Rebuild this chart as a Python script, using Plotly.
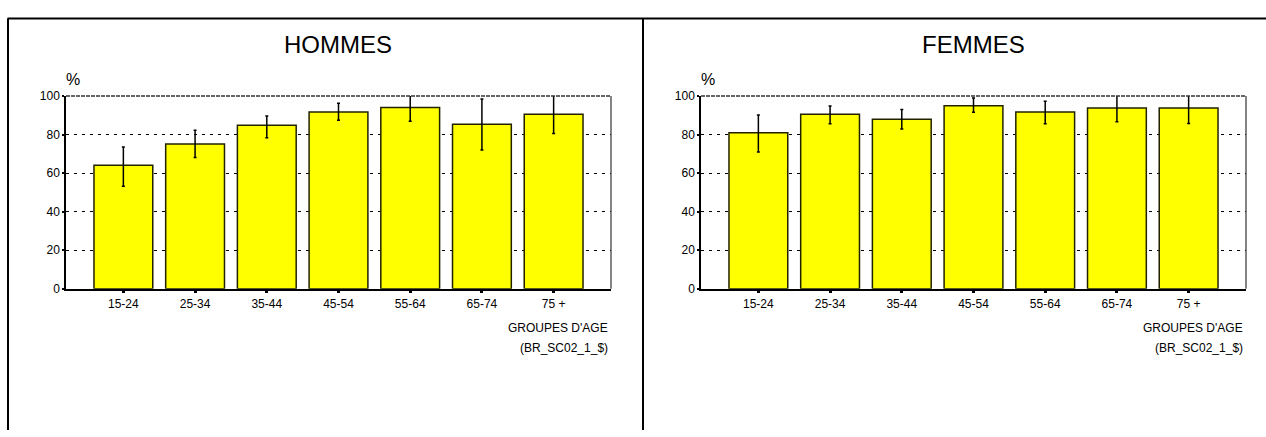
import plotly.graph_objects as go

W, H = 1266, 437

categories = ["15-24", "25-34", "35-44", "45-54", "55-64", "65-74", "75 +"]

hommes = [64.1, 75.1, 84.9, 91.7, 94.0, 85.4, 90.6]
hommes_err_plus = [9.5, 7.1, 4.8, 4.6, 7.0, 13.1, 10.0]
hommes_err_minus = [10.9, 7.0, 6.6, 4.3, 7.1, 13.4, 10.1]

femmes = [80.9, 90.6, 87.9, 95.0, 91.7, 93.8, 93.8]
femmes_err_plus = [9.3, 4.2, 5.1, 4.0, 5.6, 7.2, 8.1]
femmes_err_minus = [9.9, 5.0, 5.0, 3.4, 6.1, 7.2, 8.1]

y_ticks = [0, 20, 40, 60, 80, 100]
panel_titles = ["HOMMES", "FEMMES"]
x_title = "GROUPES D'AGE"
x_subtitle = "(BR_SC02_1_$)"
y_unit = "%"

FONT = "Liberation Sans, Arial, sans-serif"

# pixel layout
left_px = [(66, 611), (701, 1246)]
top_px, bottom_px = 92, 291


def px_x(v):
    return v / W


def px_y(v):
    return 1 - v / H


fig = go.Figure()

series = [
    (hommes, hommes_err_plus, hommes_err_minus),
    (femmes, femmes_err_plus, femmes_err_minus),
]

for i, (vals, ep, em) in enumerate(series):
    xa = "x" if i == 0 else "x2"
    ya = "y" if i == 0 else "y2"
    fig.add_trace(go.Bar(
        x=categories, y=vals, xaxis=xa, yaxis=ya,
        width=0.82,
        marker=dict(color="#FFFF00", line=dict(color="#222200", width=1.5)),
        error_y=dict(type="data", symmetric=False, array=ep, arrayminus=em,
                     color="black", thickness=1.5, width=1.5),
        showlegend=False, hoverinfo="x+y",
    ))

axis_common_x = dict(
    type="category", range=[-0.8, 6.8], showgrid=False, zeroline=False,
    showline=True, linecolor="black", linewidth=1.5,
    ticks="outside", ticklen=3, tickwidth=3, tickcolor="black",
    tickfont=dict(family=FONT, size=12, color="black"),
    fixedrange=True,
)
axis_common_y = dict(
    range=[0, 100], tickvals=y_ticks, showgrid=True, gridcolor="black",
    griddash="3px,5px", gridwidth=1, zeroline=False,
    showline=True, linecolor="black", linewidth=1.5,
    ticks="outside", ticklen=2, tickwidth=2, tickcolor="black",
    tickfont=dict(family=FONT, size=12, color="black"),
    fixedrange=True,
)

fig.update_layout(
    width=W, height=H, autosize=False,
    margin=dict(l=0, r=0, t=0, b=0),
    paper_bgcolor="white", plot_bgcolor="white",
    bargap=0.18,
    xaxis=dict(domain=[px_x(left_px[0][0]), px_x(left_px[0][1])], anchor="y", **axis_common_x),
    yaxis=dict(domain=[px_y(bottom_px), px_y(top_px)], anchor="x", **axis_common_y),
    xaxis2=dict(domain=[px_x(left_px[1][0]), px_x(left_px[1][1])], anchor="y2", **axis_common_x),
    yaxis2=dict(domain=[px_y(bottom_px), px_y(top_px)], anchor="x2", **axis_common_y),
)

shapes = []
annotations = []
for i, (l, r) in enumerate(left_px):
    # top dashed border and right solid border of plot area
    shapes.append(dict(type="line", xref="paper", yref="paper",
                       x0=px_x(l), x1=px_x(r), y0=px_y(top_px), y1=px_y(top_px),
                       line=dict(color="#333333", width=1.5, dash="4px,1px")))
    shapes.append(dict(type="line", xref="paper", yref="paper",
                       x0=px_x(r), x1=px_x(r), y0=px_y(top_px), y1=px_y(bottom_px),
                       line=dict(color="#333333", width=1.2)))
    annotations.append(dict(text=panel_titles[i], xref="paper", yref="paper",
                            x=px_x((l + r) / 2), y=px_y(39), xanchor="center", yanchor="middle",
                            showarrow=False, font=dict(family=FONT, size=24, color="black")))
    annotations.append(dict(text=y_unit, xref="paper", yref="paper",
                            x=px_x(l + 6.5), y=px_y(74.5), xanchor="center", yanchor="middle",
                            showarrow=False, font=dict(family=FONT, size=16, color="black")))
    annotations.append(dict(text=x_title, xref="paper", yref="paper",
                            x=px_x(r - 1), y=px_y(332), xanchor="right", yanchor="middle",
                            showarrow=False, font=dict(family=FONT, size=12, color="black")))
    annotations.append(dict(text=x_subtitle, xref="paper", yref="paper",
                            x=px_x(r - 1), y=px_y(352), xanchor="right", yanchor="middle",
                            showarrow=False, font=dict(family=FONT, size=12, color="black")))

# outer frame
frame = dict(color="black", width=2)
shapes.append(dict(type="line", xref="paper", yref="paper",
                   x0=px_x(7.5), x1=1, y0=px_y(12), y1=px_y(12), line=frame))
shapes.append(dict(type="line", xref="paper", yref="paper",
                   x0=px_x(8), x1=px_x(8), y0=px_y(12), y1=0, line=frame))
shapes.append(dict(type="line", xref="paper", yref="paper",
                   x0=px_x(643), x1=px_x(643), y0=px_y(12), y1=0, line=frame))

fig.update_layout(shapes=shapes, annotations=annotations)

post_js = (
    "document.documentElement.style.margin='0';"
    "document.documentElement.style.overflow='hidden';"
    "document.body.style.margin='0';"
    "document.body.style.overflow='hidden';"
    "var d=document.getElementById('{plot_id}');"
    "d.style.position='fixed';d.style.top='0px';d.style.left='0px';"
)

fig.write_html(
    "out.html",
    config={"displayModeBar": False},
    post_script=post_js,
)
